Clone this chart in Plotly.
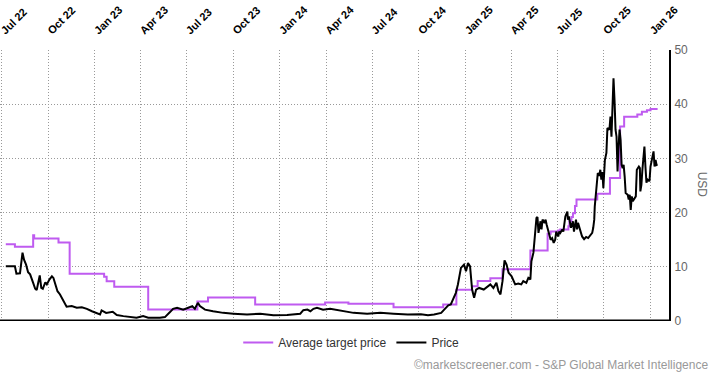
import plotly.graph_objects as go

# ---- Data ----
price_dates = [
    "2022-07-09", "2022-07-27", "2022-07-30", "2022-08-06", "2022-08-11", "2022-08-14",
    "2022-08-18", "2022-08-22", "2022-08-26", "2022-08-29", "2022-09-01", "2022-09-05",
    "2022-09-08", "2022-09-11", "2022-09-14", "2022-09-17", "2022-09-20", "2022-09-25",
    "2022-09-28", "2022-10-03", "2022-10-08", "2022-10-11", "2022-10-14", "2022-10-19",
    "2022-10-24", "2022-10-29", "2022-11-03", "2022-11-06", "2022-11-16", "2022-11-26",
    "2022-12-06", "2022-12-16", "2022-12-26", "2023-01-04", "2023-01-11", "2023-01-14",
    "2023-01-23", "2023-02-05", "2023-02-13", "2023-02-26", "2023-03-11", "2023-03-24",
    "2023-04-06", "2023-04-16", "2023-05-09", "2023-05-19", "2023-05-29", "2023-06-04",
    "2023-06-12", "2023-06-24", "2023-07-04", "2023-07-12", "2023-07-17", "2023-07-23",
    "2023-07-27", "2023-08-06", "2023-08-22", "2023-09-11", "2023-10-01", "2023-10-28",
    "2023-11-23", "2023-12-19", "2024-01-15", "2024-02-10", "2024-02-16", "2024-02-24",
    "2024-03-01", "2024-03-07", "2024-03-14", "2024-03-26", "2024-04-09", "2024-04-29",
    "2024-05-25", "2024-06-21", "2024-07-17", "2024-08-12", "2024-09-09", "2024-10-05",
    "2024-10-19", "2024-10-31", "2024-11-14", "2024-11-20", "2024-11-28", "2024-12-03",
    "2024-12-09", "2024-12-13", "2024-12-17", "2024-12-23", "2024-12-29", "2025-01-02",
    "2025-01-06", "2025-01-10", "2025-01-14", "2025-01-18", "2025-01-22", "2025-01-28",
    "2025-02-06", "2025-02-13", "2025-02-19", "2025-02-25", "2025-03-03", "2025-03-07",
    "2025-03-11", "2025-03-15", "2025-03-19", "2025-03-23", "2025-03-27", "2025-04-02",
    "2025-04-06", "2025-04-09", "2025-04-15", "2025-04-21", "2025-04-25", "2025-05-01",
    "2025-05-05", "2025-05-09", "2025-05-11", "2025-05-15", "2025-05-21", "2025-05-23",
    "2025-05-25", "2025-05-29", "2025-05-31", "2025-06-02", "2025-06-06", "2025-06-08",
    "2025-06-10", "2025-06-14", "2025-06-16", "2025-06-18", "2025-06-21", "2025-06-24",
    "2025-06-27", "2025-06-29", "2025-07-03", "2025-07-05", "2025-07-07", "2025-07-11",
    "2025-07-13", "2025-07-17", "2025-07-21", "2025-07-22", "2025-07-24", "2025-07-26",
    "2025-07-28", "2025-08-01", "2025-08-03", "2025-08-07", "2025-08-09", "2025-08-11",
    "2025-08-15", "2025-08-19", "2025-08-23", "2025-08-27", "2025-08-31", "2025-09-04",
    "2025-09-08", "2025-09-10", "2025-09-12", "2025-09-13", "2025-09-17", "2025-09-19",
    "2025-09-22", "2025-09-24", "2025-09-26", "2025-09-28", "2025-09-30", "2025-10-03",
    "2025-10-06", "2025-10-08", "2025-10-12", "2025-10-14", "2025-10-16", "2025-10-18",
    "2025-10-20", "2025-10-22", "2025-10-24", "2025-10-26", "2025-10-28", "2025-10-30",
    "2025-11-01", "2025-11-03", "2025-11-05", "2025-11-07", "2025-11-09", "2025-11-11",
    "2025-11-13", "2025-11-17", "2025-11-19", "2025-11-21", "2025-11-23", "2025-11-25",
    "2025-11-27", "2025-12-03", "2025-12-05", "2025-12-09", "2025-12-11", "2025-12-12",
    "2025-12-14", "2025-12-16", "2025-12-18", "2025-12-20", "2025-12-22", "2025-12-24",
    "2025-12-26", "2025-12-30", "2026-01-01", "2026-01-03", "2026-01-07", "2026-01-09",
    "2026-01-11", "2026-01-13", "2026-01-15",
]
price_values = [
    10.1, 10.1, 8.75, 8.8, 12.6, 11.3,
    10.4, 9.0, 8.6, 7.65, 7.05, 5.95,
    5.7, 7.05, 8.4, 6.1, 5.95, 7.15,
    6.75, 7.65, 8.25, 7.95, 7.05, 5.5,
    4.9, 4.0, 2.9, 2.65, 2.75, 2.45,
    2.55, 2.25, 1.8, 1.4, 1.2, 1.95,
    1.5, 1.7, 1.1, 0.9, 0.72, 0.6,
    0.9, 0.6, 0.6, 0.72, 1.65, 2.25,
    2.45, 2.1, 2.45, 2.75, 2.25, 3.35,
    2.75, 2.1, 1.8, 1.5, 1.35, 1.2,
    1.35, 1.05, 1.1, 1.35, 2.0, 2.1,
    1.8, 2.25, 2.45, 2.1, 2.25, 1.95,
    1.5, 1.35, 1.5, 1.35, 1.2, 1.25,
    1.05, 1.2, 1.5, 2.1, 2.9, 3.05,
    4.3, 5.2, 6.75, 9.8, 10.4, 9.2,
    10.7, 10.1, 5.8, 4.3, 5.8, 6.1,
    5.8, 6.4, 6.75, 6.1, 7.05, 5.5,
    4.9, 7.35, 11.2, 10.4, 8.9, 8.25,
    7.35, 6.75, 6.9, 6.75, 7.35, 7.05,
    7.95, 7.65, 11.0, 12.6, 19.0, 19.2,
    16.25, 18.4, 16.9, 18.7, 18.1, 18.7,
    17.8, 16.5, 15.9, 15.0, 15.3, 14.4,
    15.0, 16.5, 15.6, 16.5, 16.25, 16.9,
    16.5, 19.3, 20.2, 18.7, 19.3, 18.4,
    17.2, 18.4, 16.5, 18.7, 16.9, 18.1,
    16.9, 15.6, 15.1, 15.5, 15.3, 15.75,
    16.25, 17.2, 18.7, 21.1, 25.1, 27.3,
    26.8, 27.9, 26.1, 27.5, 24.5, 29.7,
    31.0, 35.6, 35.3, 37.7, 34.0, 40.2,
    44.8, 40.8, 35.3, 34.0, 27.6, 32.2,
    35.3, 33.4, 28.8, 28.2, 28.8, 26.7,
    23.6, 23.3, 22.4, 23.3, 20.5, 23.0,
    22.1, 23.0, 27.9, 28.5, 28.2, 23.9,
    25.1, 27.9, 30.4, 32.2, 28.5, 25.5,
    26.1, 25.8, 28.5, 29.7, 31.3, 28.5,
    29.7, 28.8, 28.9,
]

target_dates = [
    "2022-07-09", "2022-07-27", "2022-09-01", "2022-09-03", "2022-10-21", "2022-11-12",
    "2023-01-19", "2023-01-24", "2023-02-08", "2023-04-16", "2023-07-22", "2023-08-12",
    "2023-11-13", "2024-03-30", "2024-05-15", "2024-08-12", "2024-11-18", "2024-12-14",
    "2025-01-14", "2025-01-25", "2025-02-19", "2025-03-15", "2025-05-09", "2025-06-12",
    "2025-06-18", "2025-07-03", "2025-07-07", "2025-07-23", "2025-07-25", "2025-07-29",
    "2025-08-01", "2025-08-05", "2025-08-08", "2025-09-18", "2025-10-13", "2025-11-02",
    "2025-11-10", "2025-12-06", "2025-12-15", "2025-12-25", "2026-01-01", "2026-01-15",
]
target_values = [
    14.15, 13.7, 15.8, 15.2, 14.5, 8.7,
    8.15, 7.35, 6.3, 2.1, 3.6, 4.35,
    3.05, 3.4, 3.2, 2.55, 3.05, 5.75,
    6.4, 7.4, 7.9, 9.55, 13.0, 16.1,
    16.5, 16.7, 16.9, 17.5, 18.4, 19.2,
    19.9, 21.2, 22.4, 23.5, 26.4, 35.9,
    37.7, 38.1, 38.6, 38.9, 39.1, 39.1,
]

tick_dates = [
    "2022-07-01", "2022-10-01", "2023-01-01", "2023-04-01", "2023-07-01", "2023-10-01",
    "2024-01-01", "2024-04-01", "2024-07-01", "2024-10-01", "2025-01-01", "2025-04-01",
    "2025-07-01", "2025-10-01", "2026-01-01",
]
tick_labels = [
    "Jul 22", "Oct 22", "Jan 23", "Apr 23", "Jul 23", "Oct 23", "Jan 24", "Apr 24",
    "Jul 24", "Oct 24", "Jan 25", "Apr 25", "Jul 25", "Oct 25", "Jan 26",
]
y_ticks = [0, 10, 20, 30, 40, 50]

PURPLE = "#bf5bf0"
FONT = "Arial, Liberation Sans, sans-serif"
GRID = "#999999"
DOTS = "1px,2px"

fig = go.Figure()
fig.add_trace(go.Scatter(
    x=target_dates, y=target_values, mode="lines", name="Average target price",
    line=dict(color=PURPLE, width=2, shape="hv"),
))
fig.add_trace(go.Scatter(
    x=price_dates, y=price_values, mode="lines", name="Price",
    line=dict(color="#000000", width=2),
))

fig.update_layout(
    width=713, height=375,
    margin=dict(l=0, r=44, t=50, b=54, autoexpand=False),
    paper_bgcolor="white", plot_bgcolor="white",
    font=dict(family=FONT, size=12, color="#333333"),
    showlegend=True,
    legend=dict(
        orientation="h", x=0.525, xanchor="center", y=-0.079, yanchor="middle",
        font=dict(family=FONT, size=12, color="#333333"),
        itemwidth=30, bgcolor="rgba(0,0,0,0)",
    ),
    xaxis=dict(
        side="top", type="date", automargin=False,
        range=["2022-06-27 14:00", "2026-02-06 12:00"],
        tickmode="array", tickvals=tick_dates, ticktext=tick_labels,
        tickangle=-45,
        tickfont=dict(family=FONT, size=11, color="#000000", weight="bold"),
        ticks="outside", ticklen=8, tickcolor="rgba(0,0,0,0)",
        ticklabeloverflow="allow",
        showgrid=True, gridcolor=GRID, gridwidth=1, griddash=DOTS,
        showline=False, zeroline=False, fixedrange=True,
    ),
    yaxis=dict(
        side="right", range=[0, 50], automargin=False,
        tickmode="array", tickvals=y_ticks,
        tickfont=dict(family=FONT, size=12, color="#666666"),
        ticks="outside", ticklen=1, tickcolor="rgba(0,0,0,0)",
        ticklabeloverflow="allow",
        showgrid=True, gridcolor=GRID, gridwidth=1, griddash=DOTS,
        showline=True, linecolor="#000000", linewidth=2,
        zeroline=False, fixedrange=True,
    ),
    shapes=[dict(
        type="line", xref="paper", yref="y", x0=0, x1=1, y0=0, y1=0,
        line=dict(color="#000000", width=3), layer="above",
    )],
    annotations=[
        dict(text="USD", xref="paper", yref="paper", x=1.049, y=0.504,
             xanchor="center", yanchor="middle",
             showarrow=False, textangle=90,
             font=dict(family=FONT, size=12, color="#666666")),
        dict(text="©marketscreener.com - S&P Global Market Intelligence",
             xref="paper", yref="paper", x=1.061, y=-0.164,
             xanchor="right", yanchor="middle", showarrow=False,
             font=dict(family=FONT, size=12, color="#999999")),
    ],
)

fig.write_html(
    "out.html",
    config={"displayModeBar": False},
    post_script="document.documentElement.style.margin='0';document.body.style.margin='0';document.body.style.padding='0';",
)
